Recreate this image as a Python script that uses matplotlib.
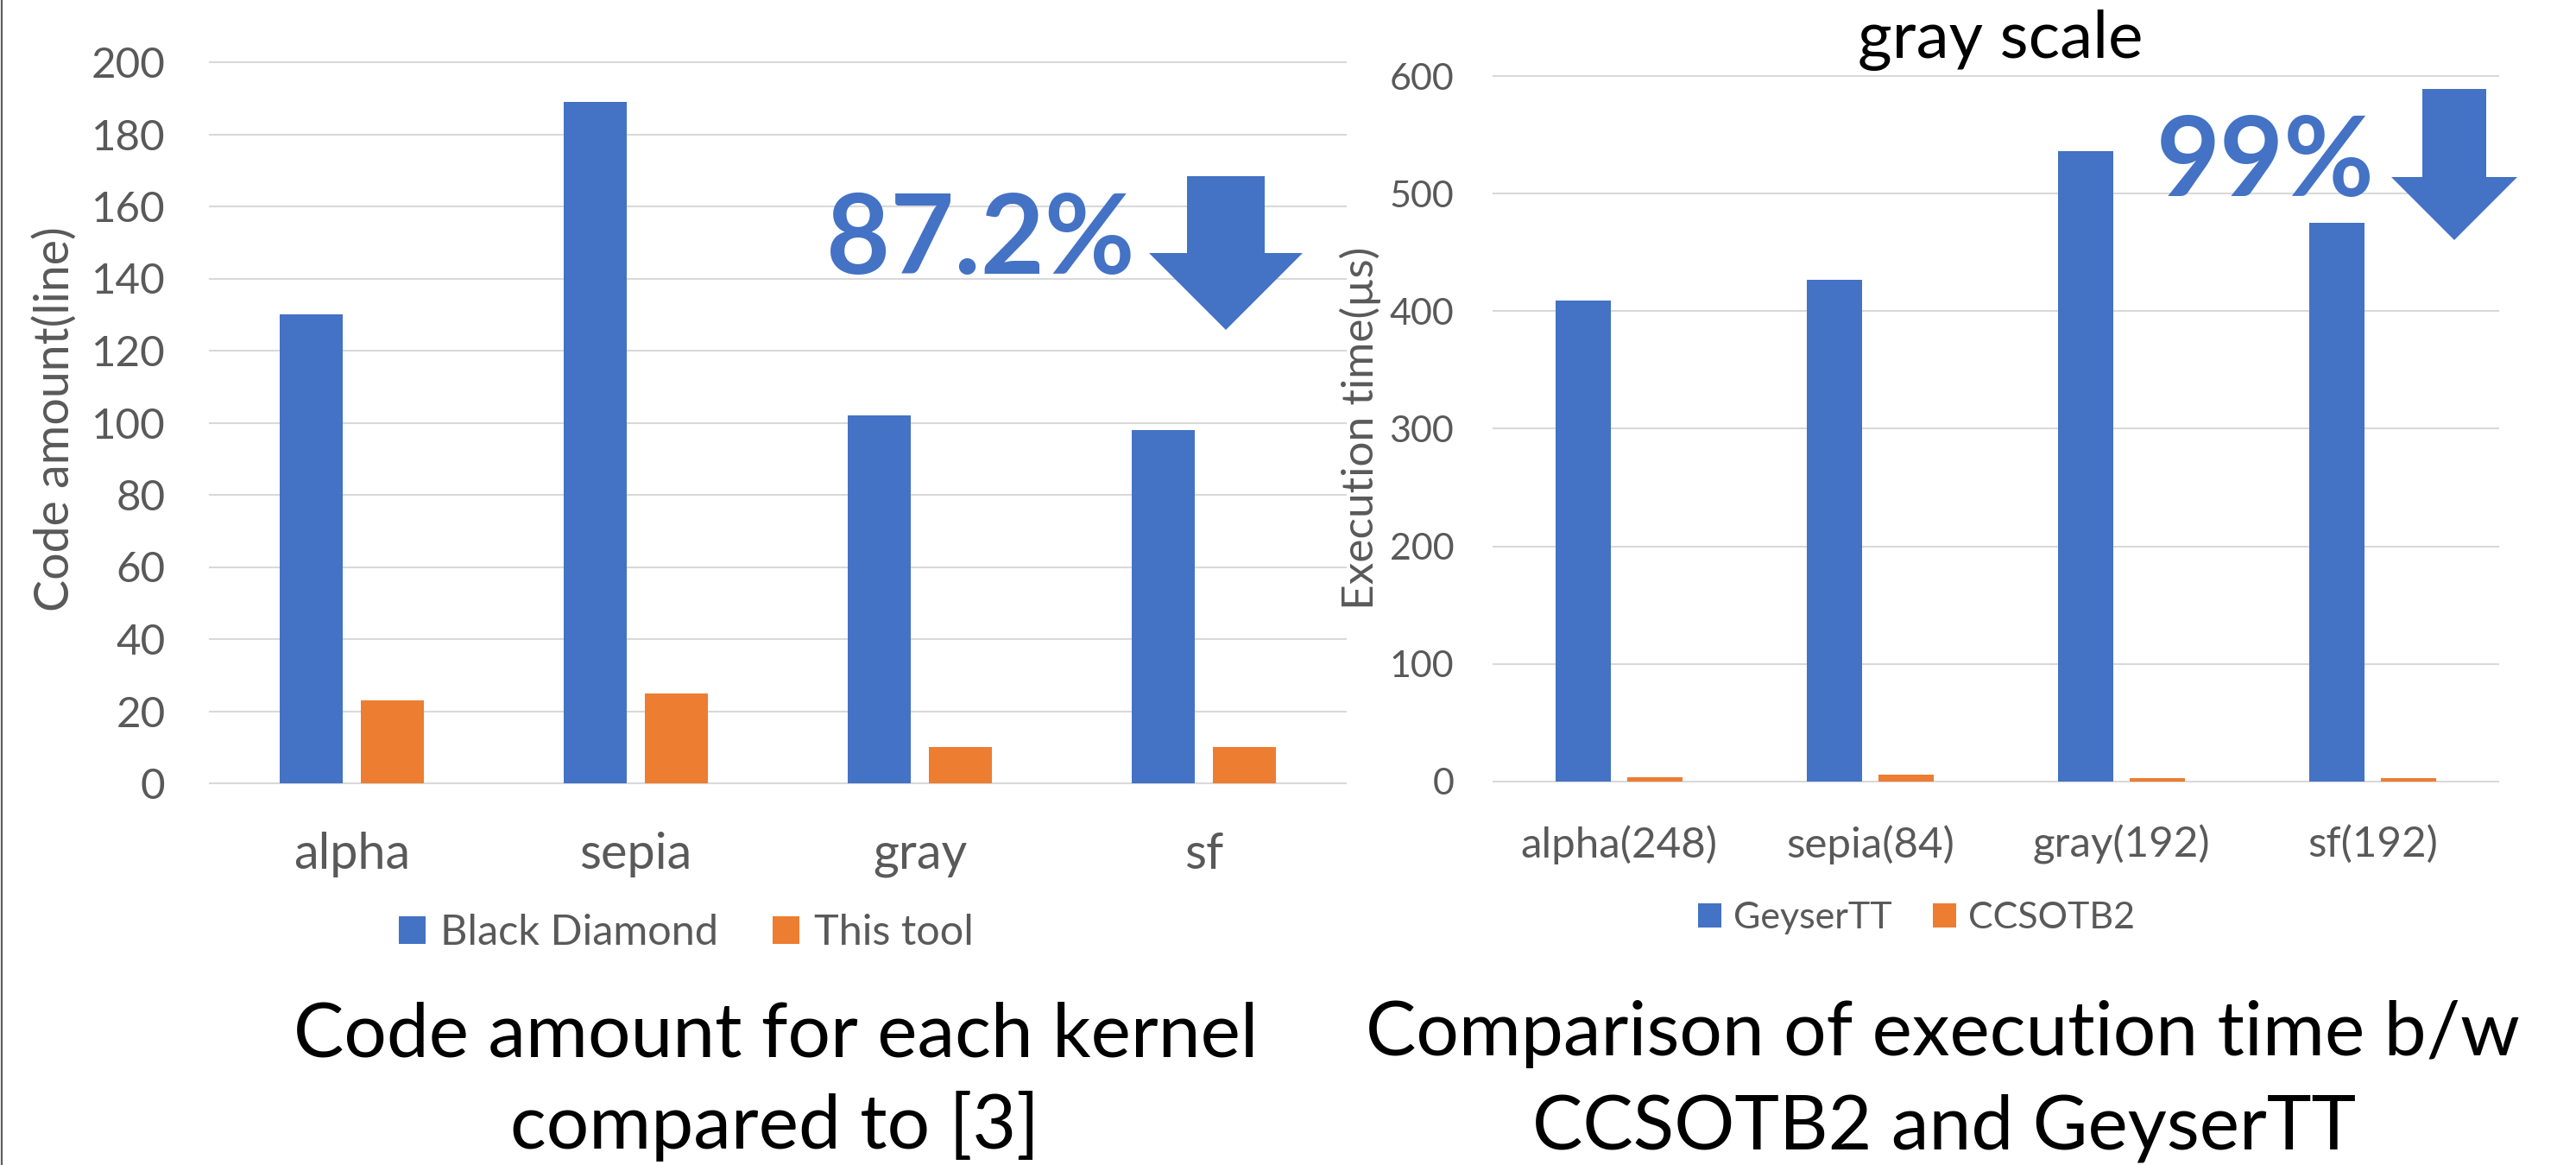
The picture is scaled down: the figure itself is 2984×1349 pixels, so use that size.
import matplotlib
matplotlib.use("Agg")
import matplotlib.pyplot as plt
from matplotlib.patches import Polygon
from matplotlib.lines import Line2D
import numpy as np

plt.rcParams['font.family'] = ['Lato', 'DejaVu Sans']

# ---------------- data ----------------
kernels_left = ["alpha", "sepia", "gray", "sf"]
black_diamond = [130, 189, 102, 98]
this_tool = [23, 25, 10, 10]
left_ticks = list(range(0, 201, 20))

kernels_right = ["alpha(248)", "sepia(84)", "gray(192)", "sf(192)"]
geysertt = [409, 427, 536, 475]
ccsotb2 = [4, 6, 3, 3]
right_ticks = list(range(0, 601, 100))

BLUE = "#4472C4"
ORANGE = "#ED7D31"
GRAY_TXT = "#595959"
GRID = "#D9D9D9"

W, H = 2984, 1349
fig = plt.figure(figsize=(W / 100, H / 100), dpi=100)
fig.patch.set_facecolor("white")


def fx(px):
    return px / W


def fy(py):
    return 1 - py / H


def style_axes(ax, ymax, ticks, ypad, xpad, ysize, xsize):
    ax.set_ylim(0, ymax)
    ax.set_xlim(-0.5, 3.5)
    ax.set_yticks(ticks)
    for s in ax.spines.values():
        s.set_visible(False)
    ax.yaxis.grid(True, color=GRID, lw=1.5)
    ax.xaxis.grid(False)
    ax.set_axisbelow(True)
    for gl in ax.get_ygridlines():
        gl.set_clip_on(False)
    ax.tick_params(axis="y", length=0, pad=ypad, labelsize=ysize, labelcolor=GRAY_TXT)
    ax.tick_params(axis="x", length=0, pad=xpad, labelsize=xsize, labelcolor=GRAY_TXT)
    ax.set_facecolor("none")


off, bw = 0.143, 0.22

# ---------------- left chart ----------------
ax1 = fig.add_axes([fx(243), fy(907), (1559 - 243) / W, (907 - 72) / H])
x = np.arange(len(kernels_left))
b1 = ax1.bar(x - off, black_diamond, bw, color=BLUE, zorder=3)
b2 = ax1.bar(x + off, this_tool, bw, color=ORANGE, zorder=3)
ax1.set_xticks(x)
ax1.set_xticklabels(kernels_left)
style_axes(ax1, 200, left_ticks, 37, 40, 35.5, 41.5)
ax1.set_ylabel("Code amount(line)", fontsize=40, color=GRAY_TXT, va="center")
ax1.yaxis.set_label_coords(fx(64), fy(485), transform=fig.transFigure)
ax1.legend([b1, b2], ["Black Diamond", "This tool"], loc="center",
           bbox_to_anchor=(fx(795), fy(1080)), bbox_transform=fig.transFigure,
           ncol=2, frameon=False, fontsize=35, handlelength=0.64, handleheight=0.64,
           handletextpad=0.35, columnspacing=1.3, labelcolor=GRAY_TXT,
           borderpad=0, borderaxespad=0)

# ---------------- right chart ----------------
ax2 = fig.add_axes([fx(1730), fy(905), (2894 - 1730) / W, (905 - 88) / H])
x2 = np.arange(len(kernels_right))
c1 = ax2.bar(x2 - off, geysertt, bw, color=BLUE, zorder=3)
c2 = ax2.bar(x2 + off, ccsotb2, bw, color=ORANGE, zorder=3)
ax2.set_xticks(x2)
ax2.set_xticklabels(kernels_right)
style_axes(ax2, 600, right_ticks, 33, 36, 31, 35.5)
ax2.set_ylabel("Execution time(\u00b5s)", fontsize=37, color=GRAY_TXT, va="center")
ax2.yaxis.set_label_coords(fx(1576), fy(496), transform=fig.transFigure)
ax2.legend([c1, c2], ["GeyserTT", "CCSOTB2"], loc="center",
           bbox_to_anchor=(fx(2220), fy(1063)), bbox_transform=fig.transFigure,
           ncol=2, frameon=False, fontsize=31, handlelength=0.63, handleheight=0.63,
           handletextpad=0.33, columnspacing=1.1, labelcolor=GRAY_TXT,
           borderpad=0, borderaxespad=0)

# ---------------- titles / captions ----------------
fig.text(fx(2317), fy(67), "gray scale", ha="center", va="baseline", fontsize=55, color="black")
fig.text(fx(899), fy(1224), "Code amount for each kernel", ha="center", va="baseline",
         fontsize=63, color="black")
fig.text(fx(898), fy(1330), "compared to [3]", ha="center", va="baseline",
         fontsize=63, color="black")
fig.text(fx(2250), fy(1222), "Comparison of execution time b/w", ha="center", va="baseline",
         fontsize=63, color="black")
fig.text(fx(2252), fy(1330), "CCSOTB2 and GeyserTT", ha="center", va="baseline",
         fontsize=63, color="black")

# ---------------- reduction annotations ----------------
fig.text(fx(1136), fy(317), "87.2%", ha="center", va="baseline", fontsize=92,
         fontweight="bold", color=BLUE)
fig.text(fx(2624), fy(227), "99%", ha="center", va="baseline", fontsize=92,
         fontweight="bold", color=BLUE)


def down_arrow(sx0, sx1, top, base, hx0, hx1, tipx, tipy):
    pts = [(sx0, top), (sx1, top), (sx1, base), (hx1, base), (tipx, tipy),
           (hx0, base), (sx0, base)]
    poly = Polygon([(fx(a), fy(b)) for a, b in pts], closed=True,
                   transform=fig.transFigure, facecolor=BLUE, edgecolor="none")
    fig.add_artist(poly)


down_arrow(1375, 1465, 204, 293, 1331, 1509, 1420, 382)
down_arrow(2806, 2880, 103, 205, 2770, 2916, 2843, 278)

# left border line of the slide
fig.add_artist(Line2D([fx(1.5), fx(1.5)], [0, 1], color="#606060", lw=1.6,
                      transform=fig.transFigure))

fig.savefig("out.png", dpi=100, facecolor="white")
